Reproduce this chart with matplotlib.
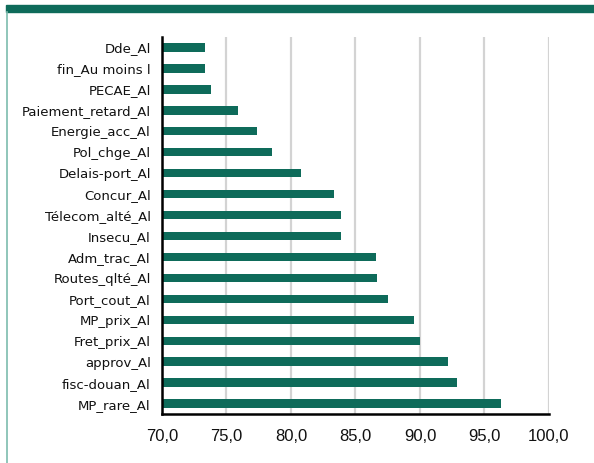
import matplotlib
matplotlib.use("Agg")
import matplotlib.pyplot as plt
from matplotlib.patches import Rectangle
from matplotlib.lines import Line2D

# Data (top to bottom as shown)
categories = [
    "Dde_Al", "fin_Au moins l", "PECAE_Al", "Paiement_retard_Al",
    "Energie_acc_Al", "Pol_chge_Al", "Delais-port_Al", "Concur_Al",
    "Télecom_alté_Al", "Insecu_Al", "Adm_trac_Al", "Routes_qlté_Al",
    "Port_cout_Al", "MP_prix_Al", "Fret_prix_Al", "approv_Al",
    "fisc-douan_Al", "MP_rare_Al",
]
values = [73.3, 73.3, 73.8, 75.9, 77.4, 78.5, 80.8, 83.3, 83.9, 83.9,
          86.6, 86.7, 87.5, 89.5, 90.0, 92.2, 92.9, 96.3]
xticks = [70, 75, 80, 85, 90, 95, 100]

bar_color = "#0e6b5a"
grid_color = "#d3d3d3"

fig = plt.figure(figsize=(5.94, 4.63), dpi=100)
ax = fig.add_axes([0.2727, 0.1058, 0.9242 - 0.2727, 0.920 - 0.1058])

pos = list(range(len(categories)))
ax.barh(pos, [v - 70 for v in values], left=70, height=0.4,
        color=bar_color, zorder=3)

ax.set_xlim(70, 100)
ax.set_ylim(len(categories) - 0.5, -0.5)
ax.set_yticks(pos)
ax.set_yticklabels(categories, fontsize=9.5, family="DejaVu Sans",
                   color="#111111")
ax.set_xticks(xticks)
ax.set_xticklabels([f"{t:.1f}".replace(".", ",") for t in xticks],
                   fontsize=12, family="Liberation Sans", color="#111111")
ax.tick_params(axis="y", length=0, pad=8)
ax.tick_params(axis="x", length=0, pad=11)

ax.grid(axis="x", color=grid_color, linewidth=1.6, zorder=0)
for s in ["top", "right"]:
    ax.spines[s].set_visible(False)
ax.spines["left"].set_linewidth(1.8)
ax.spines["bottom"].set_linewidth(1.8)
ax.spines["left"].set_zorder(4)

# frame decoration: green band on top, thin teal line on the left
fig.patches.append(Rectangle((6 / 594, 1 - 12 / 463), 588 / 594, 7 / 463,
                             transform=fig.transFigure, color=bar_color))
fig.lines.append(Line2D([7 / 594, 7 / 594], [0, 1 - 12 / 463],
                        transform=fig.transFigure, color="#7dbcae",
                        linewidth=1.2))

fig.savefig("out.png", dpi=100)
